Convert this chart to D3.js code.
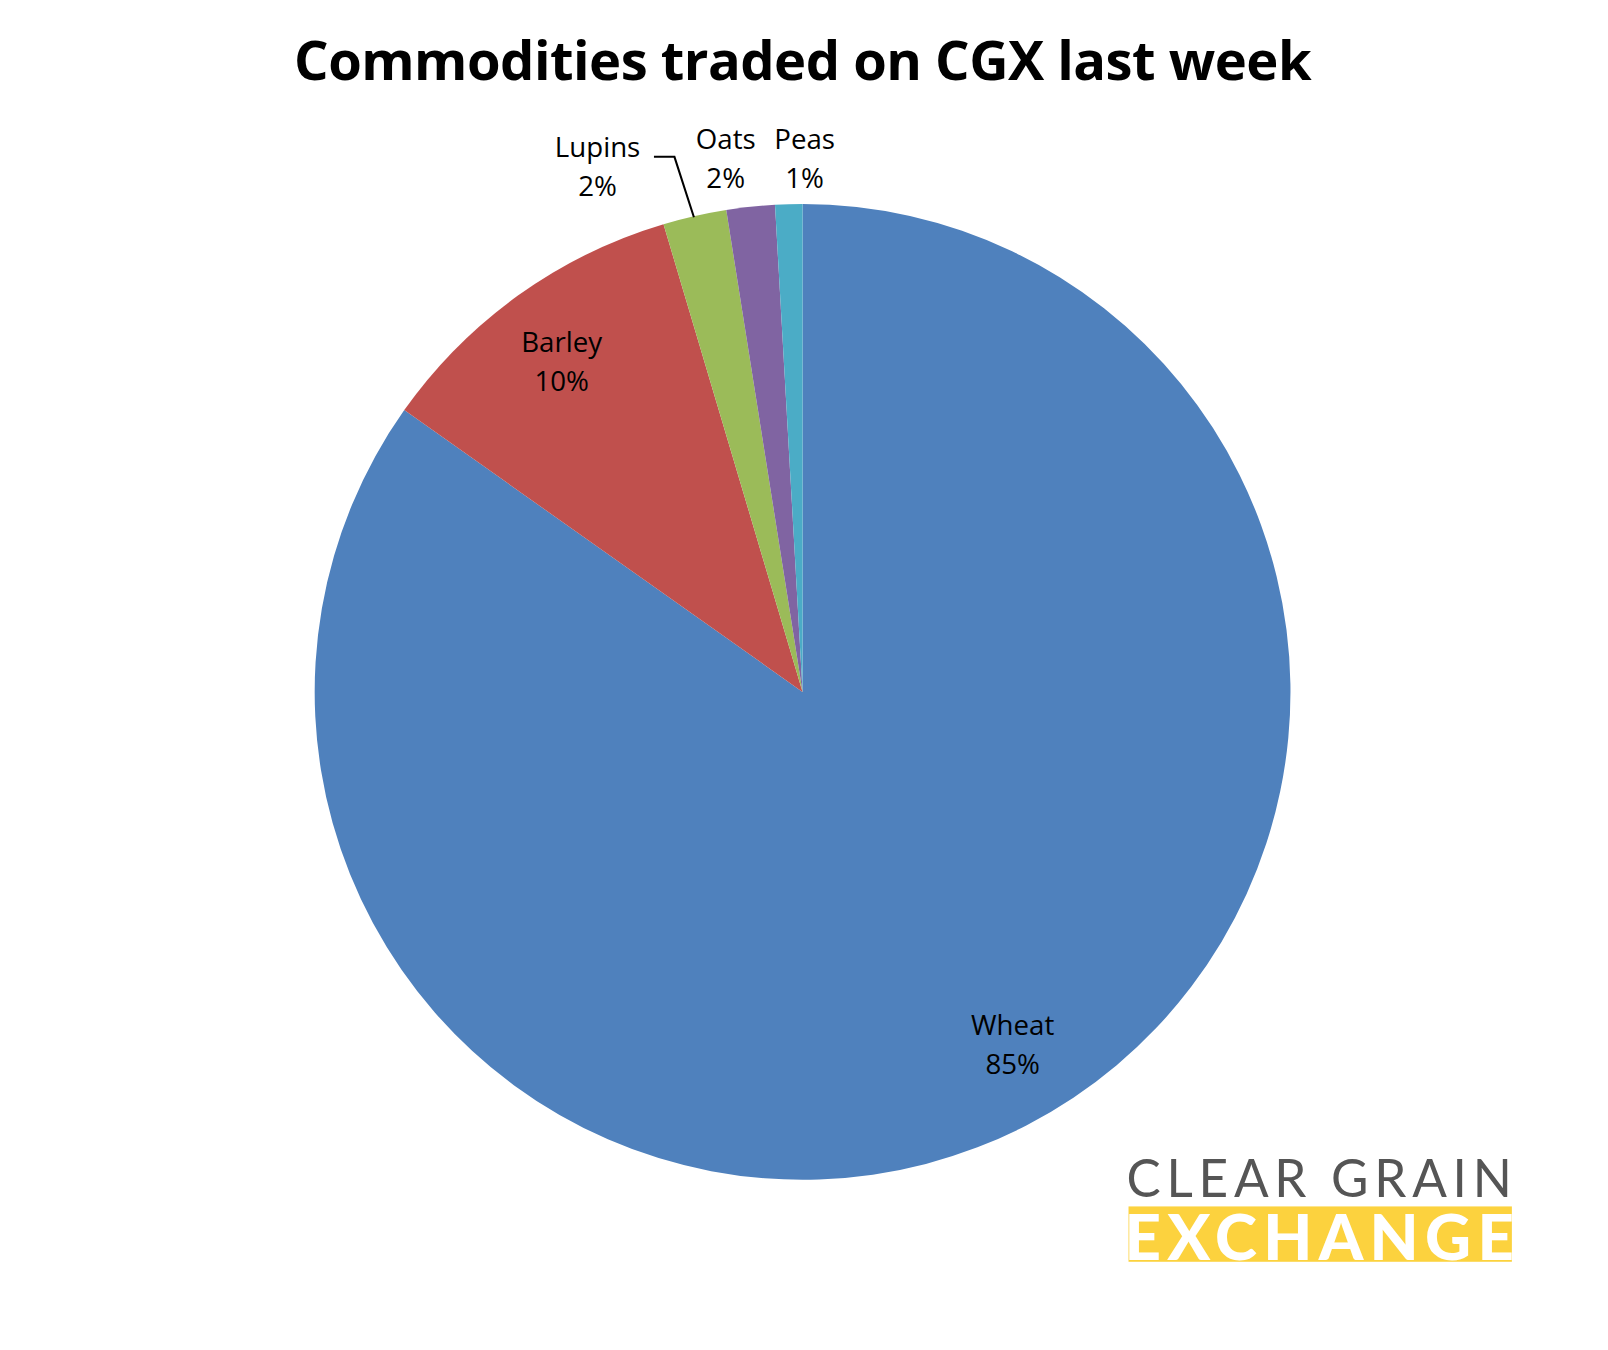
<!DOCTYPE html>
<html><head><meta charset="utf-8">
<script src="https://cdn.jsdelivr.net/npm/d3@7"></script>
<style>body{margin:0;background:#fff}svg{display:block}</style>
</head><body>
<script>
// values
var names = ['Wheat','Barley','Lupins','Oats','Peas'];
var values = [84.8, 10.6, 2.1, 1.6, 0.9];
var labels = ['85%','10%','2%','2%','1%'];
var colors = ['#4f81bd','#c0504d','#9bbb59','#8064a2','#4bacc6'];

var width = 1608, height = 1350, k = 1.025;
var cx = 783, cy = 675, r = 476;
var svg = d3.select('body').append('svg').attr('width', width).attr('height', height);
var root = svg.append('g').attr('transform', 'scale(' + k + ')');

root.append('text').attr('x', 783).attr('y', 78).attr('text-anchor','middle')
  .style('font-family','"Open Sans", "Noto Sans", sans-serif').style('font-weight','bold')
  .style('font-size','53px').style('letter-spacing','-0.5px').text('Commodities traded on CGX last week');

var data = names.map(function(n,i){ return {name:n, value:values[i], label:labels[i], color:colors[i]}; });
var pie = d3.pie().sort(null).value(function(d){ return d.value; });
var arc = d3.arc().innerRadius(0).outerRadius(r);
var arcs = pie(data);

var g = root.append('g').attr('transform','translate(' + cx + ',' + cy + ')');
g.selectAll('path').data(arcs).enter().append('path')
  .attr('d', arc).style('fill', function(d){ return d.data.color; });

// label positions (relative to center)
var labelPos = {Wheat:[205,335], Barley:[-235,-332], Lupins:[-200,-522], Oats:[-75,-530], Peas:[2,-530]};
var lbl = g.selectAll('text.lbl').data(arcs).enter().append('text').attr('class','lbl')
  .attr('text-anchor','middle')
  .style('font-family','"Open Sans", "Noto Sans", sans-serif').style('font-size','27px');
lbl.append('tspan').attr('x', function(d){ return labelPos[d.data.name][0]; })
  .attr('y', function(d){ return labelPos[d.data.name][1]; }).text(function(d){ return d.data.name; });
lbl.append('tspan').attr('x', function(d){ return labelPos[d.data.name][0]; })
  .attr('dy', 38).text(function(d){ return d.data.label; });

// leader line for Lupins
g.append('path').attr('d','M' + (-145) + ',' + (-522) + 'H' + (-125) + 'L' + (-106) + ',' + (-463))
  .style('fill','none').style('stroke','#000').style('stroke-width',2);

// logo
root.append('text').attr('x', 1099).attr('y', 1168)
  .style('font-family','"Lato", "Open Sans", sans-serif').style('font-size','50px')
  .style('fill','#555').attr('textLength', 376).text('CLEAR GRAIN');
root.append('defs').append('clipPath').attr('id','band')
  .append('rect').attr('x',1101).attr('y',1177).attr('width',374).attr('height',54);
root.append('rect').attr('x',1101).attr('y',1177).attr('width',374).attr('height',54).style('fill','#fcd23e');
root.append('text').attr('x', 1097).attr('y', 1229).attr('clip-path','url(#band)')
  .style('font-family','"Lato", "Open Sans", sans-serif').style('font-weight','900').style('font-size','62px')
  .style('fill','#fff').attr('textLength', 380).text('EXCHANGE');
</script>
</body></html>
